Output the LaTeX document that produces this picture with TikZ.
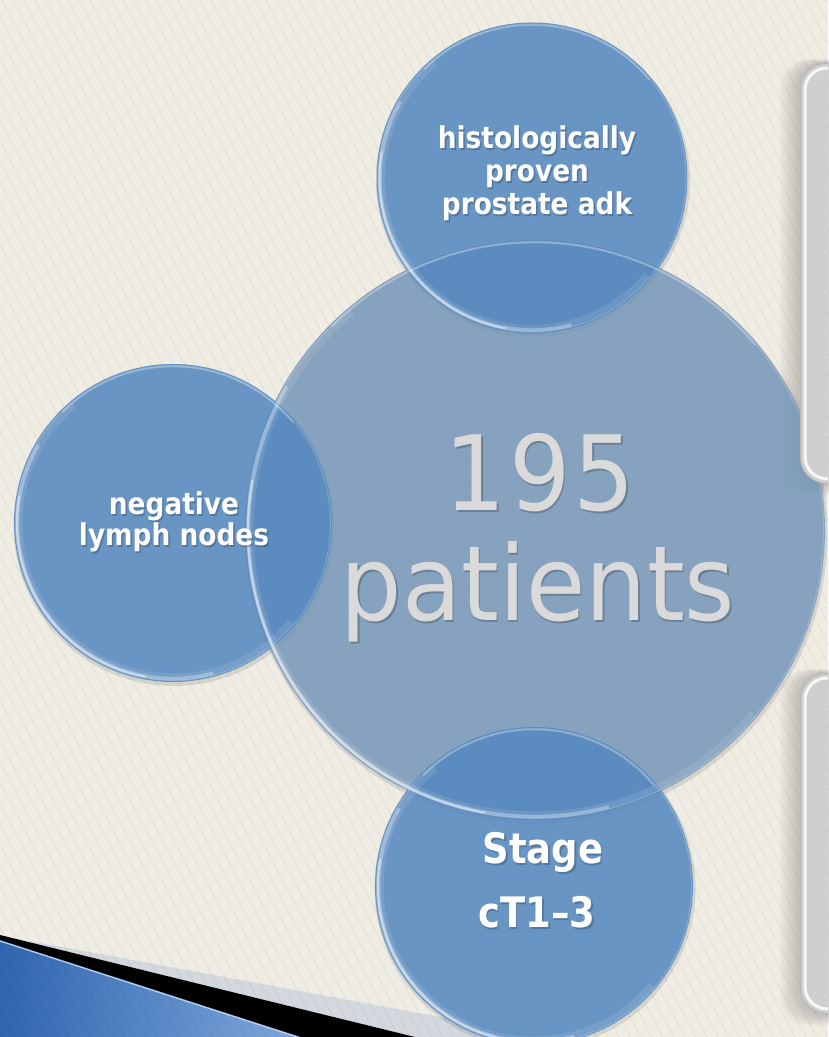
\documentclass[tikz,border=0pt]{standalone}
\usepackage{fontspec}
\usetikzlibrary{calc}
\newfontfamily\lblfont[FakeStretch=0.88]{DejaVu Sans Bold}
\newfontfamily\numfont[FakeStretch=0.93]{DejaVu Sans}

\definecolor{cream}{HTML}{EFECE3}
\definecolor{discbig}{RGB}{116,150,184}
\definecolor{discsmall}{RGB}{86,137,192}
\definecolor{numgray}{HTML}{DADADA}
\definecolor{panelgray}{HTML}{CFCFCF}
\definecolor{paneledge}{HTML}{B5B5B5}
\definecolor{cornerdark}{HTML}{2F66B0}
\definecolor{cornerlight}{HTML}{8DB2E2}
\definecolor{bandgray}{HTML}{D3D8DF}

\pgfdeclarelayer{back}
\pgfdeclarelayer{shade}
\pgfsetlayers{back,shade,main}

% glassy rim on a disc: #1 node name, #2 radius
\newcommand{\glassrim}[2]{%
  \draw[white, opacity=0.2, line width=1pt] (#1.center) circle[radius=#2-1.5];
  \draw[white, opacity=0.10, line width=7pt] (#1.center) ++(40:#2-5) arc[start angle=40, end angle=230, radius=#2-5];
  \draw[white, opacity=0.30, line width=3.5pt] (#1.center) ++(75:#2-3.5) arc[start angle=75, end angle=210, radius=#2-3.5];
  \draw[white, opacity=0.45, line width=2pt] (#1.center) ++(100:#2-3) arc[start angle=100, end angle=190, radius=#2-3];
  \draw[white, opacity=0.30, line width=1.5pt] (#1.center) ++(225:#2-2.5) arc[start angle=225, end angle=320, radius=#2-2.5];
}

% text with a soft drop shadow: #1 name, #2 position, #3 style, #4 text
\newcommand{\shadowedlabel}[4]{%
  \node[#3, text=black, text opacity=0.2, anchor=base] (#1-shadow) at ($(#2)+(1.5,2.5)$) {#4};
  \node[#3, anchor=base] (#1) at (#2) {#4};
}

\tikzset{
  lbl/.style={font=\lblfont\fontsize{30}{33}\selectfont, text=white, inner sep=0pt},
  stagelbl/.style={font=\lblfont\fontsize{42}{44}\selectfont, text=white, inner sep=0pt},
  numlbl/.style={font=\numfont\fontsize{104}{104}\selectfont, text=numgray, inner sep=0pt},
  disc/.style={circle, inner sep=0pt, draw=none},
  smalldisc/.style={disc, fill=discsmall, fill opacity=0.87},
  bigdisc/.style={disc, fill=discbig, fill opacity=0.85},
  panel/.style={rectangle, rounded corners=26pt, fill=panelgray, draw=paneledge, line width=0.8pt, inner sep=0pt},
  stripe/.style={black, opacity=0.055, line width=0.75pt},
}

\begin{document}
\begin{tikzpicture}[x=1pt,y=-1pt]
\useasboundingbox (0,0) rectangle (828,1037);
\clip (0,0) rectangle (828,1037);

% backdrop: cream paper, corner wedge, diagonal pinstripes
\begin{pgfonlayer}{back}
  \fill[cream] (0,0) rectangle (828,1037);
  \fill[bandgray] (30,941) -- (640,1054) -- (0,1054) -- cycle;
  \fill[black] (0,935) -- (480,1053) -- (0,1053) -- cycle;
  \shade[left color=cornerdark, right color=cornerlight] (0,940) -- (350,1053) -- (0,1053) -- cycle;
  \draw[cornerlight!60!white, line width=1.2pt] (0,941) -- (350,1054);
  \foreach \s in {-570,-559,...,830}
    \draw[stripe] (\s,0) -- ++(551,1037);
\end{pgfonlayer}

% discs
\node[bigdisc, minimum size=580pt] (bigc) at (535,530) {};
\node[smalldisc, minimum size=311pt] (topc) at (532,178) {};
\node[smalldisc, minimum size=318pt] (leftc) at (173,523) {};
\node[smalldisc, minimum size=318pt] (botc) at (534,886) {};

\glassrim{bigc}{290}
\glassrim{topc}{155.5}
\glassrim{leftc}{159}
\glassrim{botc}{159}

% side panels
\node[panel, minimum width=90pt, minimum height=420pt, anchor=north west] (panel1) at (800,63) {};
\node[panel, minimum width=90pt, minimum height=340pt, anchor=north west] (panel2) at (800,673) {};
\foreach \p in {panel1,panel2}
  \draw[white, opacity=0.85, line width=3pt, rounded corners=22pt]
    ($(\p.north east)+(0,5)$) -- ($(\p.north west)+(5,5)$) --
    ($(\p.south west)+(5,-5)$) -- ($(\p.south east)+(0,-5)$);

% soft shadows under discs and panels
\begin{pgfonlayer}{shade}
  \foreach \n/\r in {bigc/290, topc/155.5, leftc/159, botc/159}
    \fill[black, opacity=0.10, even odd rule]
      ($(\n.center)+(1,2.5)$) circle[radius=\r+1.5] (\n.center) circle[radius=\r];
  \foreach \p in {panel1,panel2}
    \foreach \i in {1,...,8}
      \fill[black, opacity=0.022, rounded corners=28pt]
        ($(\p.north west)+(-2.5*\i,-0.5*\i)$) rectangle ($(\p.south east)+(0,1.5*\i)$);
\end{pgfonlayer}

% labels
\shadowedlabel{hist1}{537,148}{lbl}{histologically}
\shadowedlabel{hist2}{537,181}{lbl}{proven}
\shadowedlabel{hist3}{537,214}{lbl}{prostate adk}
\shadowedlabel{neg1}{174,514}{lbl}{negative}
\shadowedlabel{neg2}{174,545}{lbl}{lymph nodes}
\shadowedlabel{stage1}{543,863}{stagelbl}{Stage}
\shadowedlabel{stage2}{537,927}{stagelbl}{cT1–3}
\shadowedlabel{count}{540,510}{numlbl}{1\kern3pt 9\kern3pt 5}
\shadowedlabel{patients}{538,620}{numlbl}{patients}
\end{tikzpicture}
\end{document}
